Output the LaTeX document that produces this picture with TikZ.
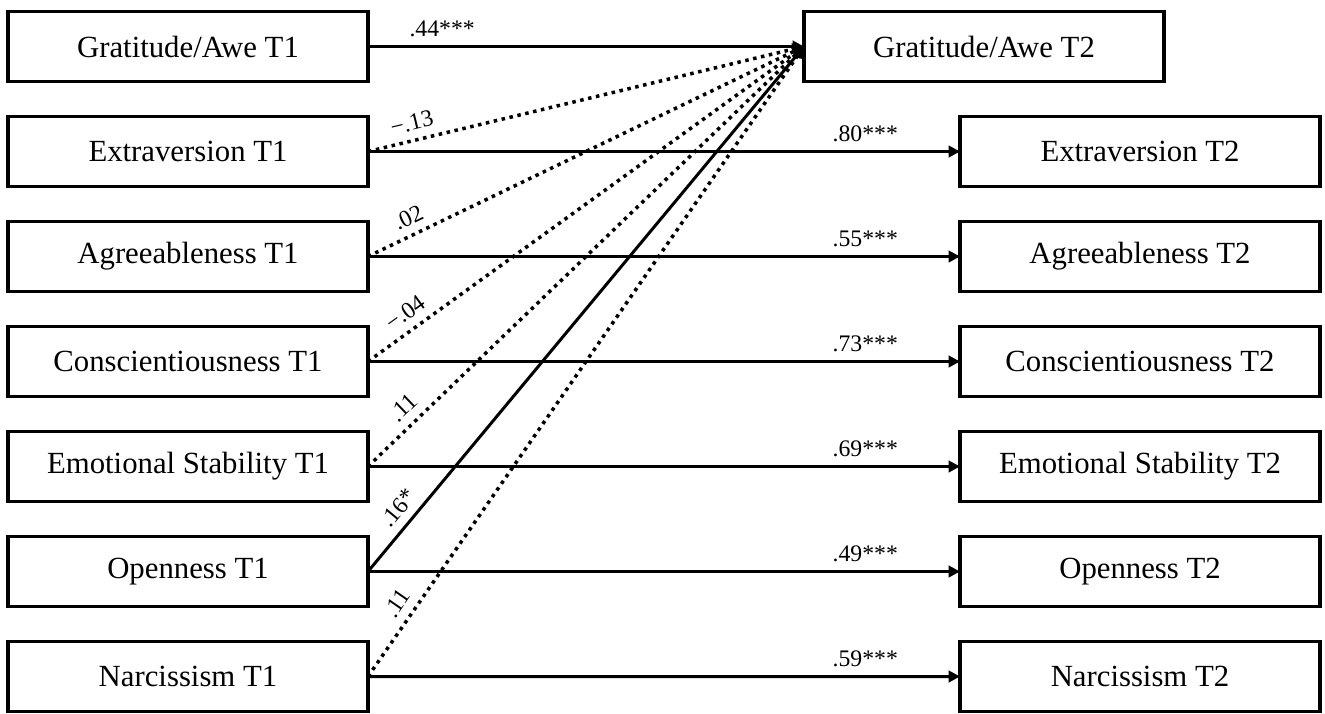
\documentclass[tikz,border=0pt]{standalone}
\usepackage{fontspec}
\setmainfont{Liberation Serif}
\usetikzlibrary{positioning, arrows.meta}

\begin{document}
\begin{tikzpicture}[
    >={Triangle[length=6.5pt, width=6.5pt]},
    font=\fontsize{17.5}{20}\selectfont
]

    % Global styles for boxes and paths
    \tikzset{
        varbox/.style={draw, line width=1.8pt, minimum width=7.2cm, minimum height=1.4cm, inner sep=0pt, outer sep=0pt},
        sigpath/.style={->, line width=1.7pt},
        nspath/.style={->, line width=2pt, dash pattern=on 2pt off 2.6pt},
        coef/.style={font=\fontsize{13.5}{15}\selectfont, inner sep=4.5pt}
    }

    \useasboundingbox (0,0) rectangle (26.5,-14.26);

    % T1 column
    \node[varbox] (G1) at (3.76,-0.93) {Gratitude/Awe T1};
    \node[varbox, below=0.7cm of G1] (E1) {Extraversion T1};
    \node[varbox, below=0.7cm of E1] (A1) {Agreeableness T1};
    \node[varbox, below=0.7cm of A1] (C1) {Conscientiousness T1};
    \node[varbox, below=0.7cm of C1] (S1) {Emotional Stability T1};
    \node[varbox, below=0.7cm of S1] (O1) {Openness T1};
    \node[varbox, below=0.7cm of O1] (N1) {Narcissism T1};

    % T2 column
    \node[varbox] (G2) at (19.68,-0.93) {Gratitude/Awe T2};
    \node[varbox] (E2) at (22.8,-3.03) {Extraversion T2};
    \node[varbox, below=0.7cm of E2] (A2) {Agreeableness T2};
    \node[varbox, below=0.7cm of A2] (C2) {Conscientiousness T2};
    \node[varbox, below=0.7cm of C2] (S2) {Emotional Stability T2};
    \node[varbox, below=0.7cm of S2] (O2) {Openness T2};
    \node[varbox, below=0.7cm of O2] (N2) {Narcissism T2};

    % Cross-lagged paths into Gratitude/Awe T2
    \draw[nspath] (E1.east) -- (G2.west) node[coef, sloped, above, pos=0.11] {−.13};
    \draw[nspath] (A1.east) -- (G2.west) node[coef, sloped, above, pos=0.11] {.02};
    \draw[nspath] (C1.east) -- (G2.west) node[coef, sloped, above, pos=0.11] {−.04};
    \draw[nspath] (S1.east) -- (G2.west) node[coef, sloped, above, pos=0.11] {.11};
    \draw[nspath] (N1.east) -- (G2.west) node[coef, sloped, above, pos=0.1] {.11};
    \draw[sigpath] (O1.east) -- (G2.west) node[coef, sloped, above, pos=0.1] {.16*};

    % Autoregressive paths
    \draw[sigpath] (G1) -- (G2) node[coef, above, pos=0.17] {.44***};
    \draw[sigpath] (E1) -- (E2) node[coef, above, pos=0.84] {.80***};
    \draw[sigpath] (A1) -- (A2) node[coef, above, pos=0.84] {.55***};
    \draw[sigpath] (C1) -- (C2) node[coef, above, pos=0.84] {.73***};
    \draw[sigpath] (S1) -- (S2) node[coef, above, pos=0.84] {.69***};
    \draw[sigpath] (O1) -- (O2) node[coef, above, pos=0.84] {.49***};
    \draw[sigpath] (N1) -- (N2) node[coef, above, pos=0.84] {.59***};

\end{tikzpicture}
\end{document}
